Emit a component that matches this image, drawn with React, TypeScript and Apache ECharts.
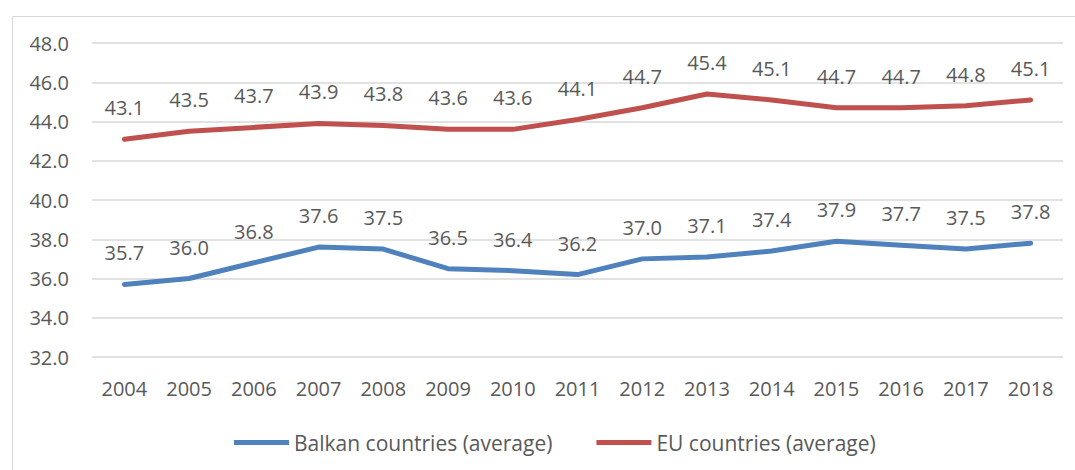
import React, { useEffect, useRef } from "react";
import * as echarts from "echarts";

const years = ["2004","2005","2006","2007","2008","2009","2010","2011","2012","2013","2014","2015","2016","2017","2018"];
const balkan = [35.7,36.0,36.8,37.6,37.5,36.5,36.4,36.2,37.0,37.1,37.4,37.9,37.7,37.5,37.8];
const eu = [43.1,43.5,43.7,43.9,43.8,43.6,43.6,44.1,44.7,45.4,45.1,44.7,44.7,44.8,45.1];
const seriesNames = ["Balkan countries (average)", "EU countries (average)"];

const FONT = "'Open Sans', 'Noto Sans', sans-serif";
const TXT = "#595959";
const FS = 20;

export default function App() {
  const ref = useRef<HTMLDivElement>(null);
  useEffect(() => {
    if (!ref.current) return;
    const chart = echarts.init(ref.current, null, { renderer: "svg" });
    const label = {
      show: true,
      position: "top",
      distance: 21,
      color: TXT,
      fontSize: FS,
      fontFamily: FONT,
      formatter: (p: any) => Number(p.value).toFixed(1),
    };
    const mk = (name: string, data: number[], color: string) => ({
      name,
      type: "line",
      data,
      smooth: false,
      showSymbol: true,
      symbol: "circle",
      symbolSize: 1,
      lineStyle: { color, width: 5, cap: "round", join: "round" },
      itemStyle: { color },
      label,
    });
    chart.setOption({
      animation: false,
      backgroundColor: "#ffffff",
      textStyle: { fontFamily: FONT },
      graphic: [
        {
          type: "rect",
          left: 10,
          top: 14,
          shape: { x: 0, y: 0, width: 1100, height: 500 },
          style: { fill: "none", stroke: "#d9d9d9", lineWidth: 1 },
          silent: true,
        },
      ],
      grid: { left: 92, right: 12, top: 43, bottom: 113 },
      legend: {
        data: seriesNames,
        top: 427,
        left: 229,
        icon: "rect",
        itemWidth: 55,
        itemHeight: 5,
        itemGap: 44,
        textStyle: { color: TXT, fontSize: 21, fontFamily: FONT },
      },
      xAxis: {
        type: "category",
        data: years,
        boundaryGap: true,
        axisLine: { show: false },
        axisTick: { show: false },
        axisLabel: { color: TXT, fontSize: FS, fontFamily: FONT, margin: 21 },
      },
      yAxis: {
        type: "value",
        min: 32,
        max: 48,
        interval: 2,
        axisLine: { show: false },
        axisTick: { show: false },
        splitLine: { lineStyle: { color: "#d9d9d9", width: 1.5 } },
        axisLabel: {
          color: TXT,
          fontSize: FS,
          fontFamily: FONT,
          margin: 23,
          formatter: (v: number) => v.toFixed(1),
        },
      },
      series: [
        mk(seriesNames[0], balkan, "#4F81BD"),
        mk(seriesNames[1], eu, "#C0504D"),
      ],
    });
    return () => chart.dispose();
  }, []);
  return (
    <div
      ref={ref}
      style={{ position: "fixed", left: 0, top: 0, width: 1075, height: 470 }}
    />
  );
}
